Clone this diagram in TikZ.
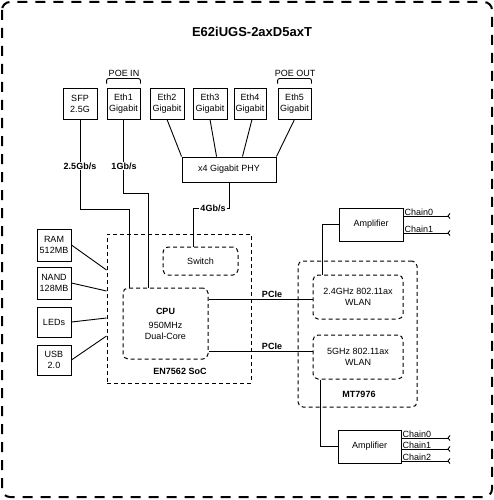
\documentclass[tikz,border=0pt]{standalone}
\usepackage{fontspec}
\setmainfont{Liberation Sans}
\usetikzlibrary{arrows.meta,calc}
\begin{document}
\begin{tikzpicture}[x=1pt,y=-1pt,
  every node/.style={font=\fontsize{9}{11}\selectfont, inner sep=0pt, align=center},
  box/.style={draw, line width=0.9pt, minimum height=31pt},
  dbox/.style={draw, line width=1pt, dash pattern=on 4pt off 3pt},
  rdbox/.style={dbox, rounded corners=5pt},
  lbl/.style={font=\fontsize{9}{11}\selectfont\bfseries, fill=white, inner sep=1pt},
  blbl/.style={font=\fontsize{9}{11}\selectfont\bfseries},
  wire/.style={line width=0.9pt},
  chain/.style={wire, -{Straight Barb[reversed,length=2pt,width=5pt]}},
  chlbl/.style={anchor=base west, font=\fontsize{9}{10}\selectfont, inner sep=0pt},
  brace/.style={line width=0.9pt, rounded corners=2pt}
]
\useasboundingbox (0,0) rectangle (494,500);
% outer frame
\draw[line width=2pt, dash pattern=on 10pt off 8pt, rounded corners=8pt] (2,2) rectangle (492,497);
\node[font=\fontsize{13}{15}\selectfont\bfseries] (title) at (252,32) {E62iUGS-2axD5axT};

% top ports
\node[box, minimum width=34pt] (sfp)  at (80,103.5)  {SFP\\2.5G};
\node[box, minimum width=33pt] (eth1) at (123.5,103.5) {Eth1\\Gigabit};
\node[box, minimum width=34pt] (eth2) at (167,103.5) {Eth2\\Gigabit};
\node[box, minimum width=34pt] (eth3) at (210,103.5) {Eth3\\Gigabit};
\node[box, minimum width=32pt] (eth4) at (250,103.5) {Eth4\\Gigabit};
\node[box, minimum width=33pt] (eth5) at (294.5,103.5) {Eth5\\Gigabit};

% POE braces
\node (poein)  at (124,73) {POE IN};
\node (poeout) at (295,73) {POE OUT};
\draw[brace] ([yshift=4pt]eth1.north west) -- ++(0,-5) -| ([yshift=4pt]eth1.north east);
\draw[brace] ([yshift=4pt]eth5.north west) -- ++(0,-5) -| ([yshift=4pt]eth5.north east);

% PHY
\node[box, minimum width=94pt, minimum height=25pt] (phy) at (229,169.5) {x4 Gigabit PHY};
\draw[wire] (eth2.south) -- (phy.north west);
\draw[wire] (eth3.south) -- ([xshift=35pt]phy.north west);
\draw[wire] ([xshift=2pt]eth4.south) -- ([xshift=-34pt]phy.north east);
\draw[wire] (eth5.south) -- (phy.north east);

% SoC
\node[dbox, minimum width=144pt, minimum height=149pt] (soc) at (179,308.5) {};
\node[blbl] (soclbl) at (180,371) {EN7562 SoC};
\node[rdbox, minimum width=75pt, minimum height=28pt] (switch) at (200.5,261) {Switch};
\node[rdbox, minimum width=85pt, minimum height=71pt] (cpu) at (165.5,323.5)
  {\textbf{CPU}\\[3pt]950MHz\\Dual-Core};

% port wires to CPU / switch
\draw[wire] (sfp.south) -- ++(0,90) -| ([xshift=7pt]cpu.north west);
\draw[wire] (eth1.south) -- ++(0,74) -| ([xshift=26pt]cpu.north west);
\draw[wire] (phy.south) -- ++(0,26) -| ([xshift=31pt]switch.north west);
\node[lbl] (l25) at (80,166) {2.5Gb/s};
\node[lbl] (l1)  at (124,166) {1Gb/s};
\node[lbl] (l4)  at (213,208) {4Gb/s};

% left peripherals
\node[box, minimum width=34pt, minimum height=32pt] (ram)  at (54,245) {RAM\\512MB};
\node[box, minimum width=34pt, minimum height=32pt] (nand) at (54,283) {NAND\\128MB};
\node[box, minimum width=34pt, minimum height=30pt] (leds) at (54,322) {LEDs};
\node[box, minimum width=34pt, minimum height=30pt] (usb)  at (54,360) {USB\\2.0};
\draw[wire] (ram.east)  -- ([yshift=38.5pt]soc.west);
\draw[wire] (nand.east) -- ([yshift=17.5pt]soc.west);
\draw[wire] (leds.east) -- ([yshift=-9.5pt]soc.west);
\draw[wire] (usb.east)  -- ([yshift=-27.5pt]soc.west);

% MT7976
\node[rdbox, minimum width=119pt, minimum height=146pt] (mt) at (357.5,334) {};
\node[blbl] (mtlbl) at (359,394) {MT7976};
\node[rdbox, minimum width=90pt, minimum height=44pt] (wlan24) at (358,297) {2.4GHz 802.11ax\\WLAN};
\node[rdbox, minimum width=90pt, minimum height=44pt] (wlan5)  at (358,357) {5GHz 802.11ax\\WLAN};

% PCIe
\coordinate (p1) at ([yshift=24.5pt]cpu.east);
\coordinate (p2) at ([yshift=-27.5pt]cpu.east);
\draw[wire] (p1) -- (p1 -| wlan24.west);
\draw[wire] (p2) -- (p2 -| wlan5.west);
\node[blbl, anchor=base] (pcie1) at (272,297.5) {PCIe};
\node[blbl, anchor=base] (pcie2) at (272,349.5) {PCIe};

% amplifiers
\node[box, minimum width=64pt, minimum height=33pt] (amp1) at (371,224.5) {Amplifier};
\node[box, minimum width=63pt, minimum height=33pt] (amp2) at (369.5,446.5) {Amplifier};
\draw[wire] ([xshift=10pt]wlan24.north west) |- (amp1.west);
\draw[wire] ([xshift=8pt]wlan5.south west) |- (amp2.west);

% chains
\draw[chain] ([yshift=8.5pt]amp1.east) -- ++(47,0);
\draw[chain] ([yshift=-8.5pt]amp1.east) -- ++(47,0);
\node[chlbl] (a1c0) at ([xshift=1pt,yshift=9.5pt]amp1.east) {Chain0};
\node[chlbl] (a1c1) at ([xshift=1pt,yshift=-7.5pt]amp1.east) {Chain1};

\draw[chain] ([yshift=8.5pt]amp2.east) -- ++(49,0);
\draw[chain] ([yshift=-2.5pt]amp2.east) -- ++(49,0);
\draw[chain] ([yshift=-14.5pt]amp2.east) -- ++(49,0);
\node[chlbl] (a2c0) at ([xshift=1pt,yshift=9.5pt]amp2.east) {Chain0};
\node[chlbl] (a2c1) at ([xshift=1pt,yshift=-1.5pt]amp2.east) {Chain1};
\node[chlbl] (a2c2) at ([xshift=1pt,yshift=-13.5pt]amp2.east) {Chain2};
\end{tikzpicture}
\end{document}
